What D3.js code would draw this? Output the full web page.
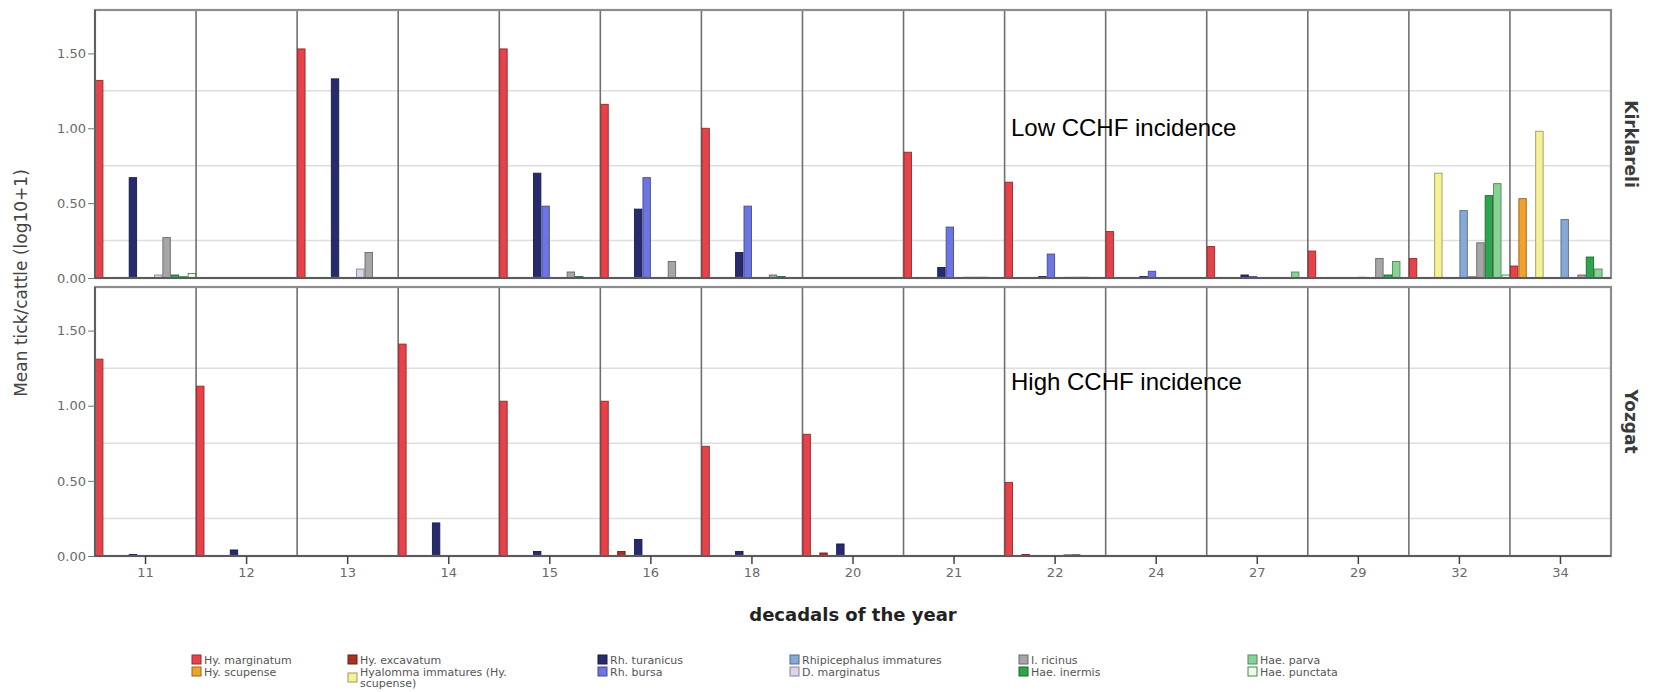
<!DOCTYPE html>
<html>
<head>
<meta charset="utf-8">
<script src="https://cdnjs.cloudflare.com/ajax/libs/d3/7.8.5/d3.min.js"></script>
<style>
  body { margin: 0; background: #fff; }
  svg { display: block; font-family: "DejaVu Sans", sans-serif; }
</style>
</head>
<body>
<div id="chart"></div>
<script>
const decadals = ["11", "12", "13", "14", "15", "16", "18", "20", "21", "22", "24", "27", "29", "32", "34"];
const species = ["Hy. marginatum", "Hy. scupense", "Hy. excavatum", "Hyalomma immatures (Hy. scupense)",
    "Rh. turanicus", "Rh. bursa", "Rhipicephalus immatures", "D. marginatus",
    "I. ricinus", "Hae. inermis", "Hae. parva", "Hae. punctata"];
const speciesColors = ["#e6424a", "#f0a22e", "#a8321f", "#f6f197", "#262b6e", "#6d75e2",
    "#85aad6", "#ddd3ea", "#a6a6a6", "#2ea44f", "#86d494", "#effaec"];
const yTicks = [0, 0.5, 1.0, 1.5];
const yGrid = [0.25, 0.75, 1.25];

// one row per decadal, one column per species (same order as `species`)
const kirklareli = [
    [1.32, 0, 0, 0, 0.67, 0, 0, 0.02, 0.27, 0.02, 0.01, 0.03],
    [0, 0, 0, 0, 0, 0, 0, 0, 0, 0, 0, 0],
    [1.53, 0, 0, 0, 1.33, 0, 0, 0.06, 0.17, 0, 0, 0],
    [0, 0, 0, 0, 0, 0, 0, 0, 0, 0, 0, 0],
    [1.53, 0, 0, 0, 0.70, 0.48, 0, 0, 0.04, 0.01, 0, 0],
    [1.16, 0, 0, 0, 0.46, 0.67, 0, 0, 0.11, 0, 0, 0],
    [1.00, 0, 0, 0, 0.17, 0.48, 0, 0, 0.02, 0.01, 0, 0],
    [0, 0, 0, 0, 0, 0, 0, 0, 0, 0, 0, 0],
    [0.84, 0, 0, 0, 0.07, 0.34, 0, 0.005, 0.005, 0.005, 0, 0],
    [0.64, 0, 0, 0, 0.01, 0.16, 0, 0.005, 0.005, 0.005, 0, 0],
    [0.31, 0, 0, 0, 0.01, 0.045, 0, 0, 0, 0, 0, 0],
    [0.21, 0, 0, 0, 0.02, 0.01, 0, 0, 0, 0, 0.04, 0],
    [0.18, 0, 0, 0, 0, 0, 0.005, 0, 0.13, 0.02, 0.11, 0],
    [0.13, 0, 0, 0.70, 0, 0, 0.45, 0.01, 0.235, 0.55, 0.63, 0.02],
    [0.08, 0.53, 0, 0.98, 0, 0, 0.39, 0, 0.02, 0.14, 0.06, 0]
];
const yozgat = [
    [1.31, 0, 0, 0, 0.01, 0, 0, 0, 0, 0, 0, 0],
    [1.13, 0, 0, 0, 0.04, 0, 0, 0, 0, 0, 0, 0],
    [0, 0, 0, 0, 0, 0, 0, 0, 0, 0, 0, 0],
    [1.41, 0, 0, 0, 0.22, 0, 0, 0, 0, 0, 0, 0],
    [1.03, 0, 0, 0, 0.03, 0, 0, 0, 0, 0, 0, 0],
    [1.03, 0, 0.03, 0, 0.11, 0, 0, 0, 0, 0, 0, 0],
    [0.73, 0, 0, 0, 0.03, 0, 0, 0, 0, 0, 0, 0],
    [0.81, 0, 0.02, 0, 0.08, 0, 0, 0, 0, 0, 0, 0],
    [0, 0, 0, 0, 0, 0, 0, 0, 0, 0, 0, 0],
    [0.49, 0, 0.01, 0, 0, 0, 0, 0.01, 0.01, 0, 0, 0],
    [0, 0, 0, 0, 0, 0, 0, 0, 0, 0, 0, 0],
    [0, 0, 0, 0, 0, 0, 0, 0, 0, 0, 0, 0],
    [0, 0, 0, 0, 0, 0, 0, 0, 0, 0, 0, 0],
    [0, 0, 0, 0, 0, 0, 0, 0, 0, 0, 0, 0],
    [0, 0, 0, 0, 0, 0, 0, 0, 0, 0, 0, 0]
];

const panels = [
    { name: "Kirklareli", data: kirklareli, top: 10, bottom: 278, note: "Low CCHF incidence", noteY: 136 },
    { name: "Yozgat", data: yozgat, top: 287, bottom: 556, note: "High CCHF incidence", noteY: 390 }
];

const width = 1656, height = 692;
const left = 95, right = 1611;
const yMax = 1.79;

const svg = d3.select("#chart").append("svg")
    .attr("width", width)
    .attr("height", height);

const x = d3.scaleBand().domain(decadals).range([left, right]).padding(0);
const xs = d3.scaleBand().domain(species).range([0, x.bandwidth()]).padding(0);
const color = d3.scaleOrdinal().domain(species).range(speciesColors);
const stroke = s => s === "Hae. punctata" ? "#3d8a4c" : d3.color(color(s)).darker(1.3);

panels.forEach((p, pi) => {
    const y = d3.scaleLinear().domain([0, yMax]).range([p.bottom, p.top]);
    const g = svg.append("g");

    // light grid lines
    g.selectAll(".grid")
        .data(yGrid)
        .enter().append("line")
        .attr("x1", left).attr("x2", right)
        .attr("y1", d => y(d)).attr("y2", d => y(d))
        .attr("stroke", "#dedede")
        .attr("stroke-width", 1.5);

    // decadal separators
    g.selectAll(".sep")
        .data(decadals.slice(1))
        .enter().append("line")
        .attr("x1", d => x(d)).attr("x2", d => x(d))
        .attr("y1", p.top).attr("y2", p.bottom)
        .attr("stroke", "#707070")
        .attr("stroke-width", 1.6);

    // bars
    const cluster = g.selectAll(".cluster")
        .data(p.data)
        .enter().append("g")
        .attr("transform", (d, i) => `translate(${x(decadals[i])},0)`);

    cluster.selectAll("rect")
        .data(row => row.map((v, j) => ({ key: species[j], value: v })).filter(d => d.value > 0))
        .enter().append("rect")
        .attr("x", d => xs(d.key) + 0.5)
        .attr("width", xs.bandwidth() - 1)
        .attr("y", d => y(d.value))
        .attr("height", d => y(0) - y(d.value))
        .attr("fill", d => color(d.key))
        .attr("stroke", d => stroke(d.key))
        .attr("stroke-width", 0.9);

    // frame
    g.append("rect")
        .attr("x", left).attr("y", p.top)
        .attr("width", right - left).attr("height", p.bottom - p.top)
        .attr("fill", "none")
        .attr("stroke", "#8c8c8c")
        .attr("stroke-width", 2.2);

    g.append("line")
        .attr("x1", left).attr("x2", right)
        .attr("y1", p.bottom).attr("y2", p.bottom)
        .attr("stroke", "#4a4a4a")
        .attr("stroke-width", 1.5);
    g.append("line")
        .attr("x1", left).attr("x2", left)
        .attr("y1", p.top).attr("y2", p.bottom)
        .attr("stroke", "#4a4a4a")
        .attr("stroke-width", 1.3);

    // y axis
    const yAxis = g.append("g").attr("transform", `translate(${left},0)`)
        .call(d3.axisLeft(y).tickValues(yTicks).tickFormat(d3.format(".2f")).tickSize(7).tickPadding(2));
    yAxis.select(".domain").remove();
    yAxis.selectAll(".tick line").attr("stroke", "#777");
    yAxis.selectAll(".tick text")
        .attr("fill", "#6a6a6a")
        .attr("font-size", 13)
        .attr("font-family", "DejaVu Sans");

    // facet label on the right
    g.append("text")
        .attr("transform", `translate(${right + 14}, ${(p.top + p.bottom) / 2}) rotate(90)`)
        .attr("text-anchor", "middle")
        .attr("font-size", 17)
        .attr("font-weight", "bold")
        .attr("fill", "#3a3a3a")
        .text(p.name);

    // annotation
    g.append("text")
        .attr("x", 1011)
        .attr("y", p.noteY)
        .attr("font-family", "Liberation Sans, Arial, sans-serif")
        .attr("font-size", 24)
        .attr("fill", "#000")
        .text(p.note);

    if (pi === panels.length - 1) {
        const xAxis = g.append("g").attr("transform", `translate(0,${p.bottom})`)
            .call(d3.axisBottom(x).tickSize(8).tickPadding(4));
        xAxis.select(".domain").remove();
        xAxis.selectAll(".tick line").attr("stroke", "#444").attr("stroke-width", 1.5);
        xAxis.selectAll(".tick text")
            .attr("fill", "#6a6a6a")
            .attr("font-size", 13)
            .attr("font-family", "DejaVu Sans");
    }
});

// axis titles
svg.append("text")
    .attr("transform", `translate(27, 283) rotate(-90)`)
    .attr("text-anchor", "middle")
    .attr("font-size", 17)
    .attr("fill", "#444")
    .text("Mean tick/cattle (log10+1)");

svg.append("text")
    .attr("x", (left + right) / 2)
    .attr("y", 621)
    .attr("text-anchor", "middle")
    .attr("font-size", 18)
    .attr("font-weight", "bold")
    .attr("fill", "#222")
    .text("decadals of the year");

// legend: 6 columns of 2 entries
const legendCols = [192, 348, 598, 790, 1019, 1248];
const legendTop = 655, legendRow = 12;

function wrap(label, max) {
    const lines = [];
    let cur = "";
    label.split(" ").forEach(w => {
        if (cur && (cur + " " + w).length > max) { lines.push(cur); cur = w; }
        else cur = cur ? cur + " " + w : w;
    });
    lines.push(cur);
    return lines;
}

const legendG = svg.selectAll(".legend")
    .data(species)
    .enter().append("g")
    .attr("class", "legend")
    .attr("transform", (d, i) => `translate(${legendCols[Math.floor(i / 2)]}, ${legendTop + (i % 2) * legendRow})`);

legendG.append("rect")
    .attr("x", 0)
    .attr("y", d => wrap(d, 23).length > 1 ? legendRow / 2 : 0)
    .attr("width", 9)
    .attr("height", 9)
    .attr("fill", d => color(d))
    .attr("stroke", d => stroke(d))
    .attr("stroke-width", 1);

legendG.append("text")
    .attr("x", 12)
    .attr("y", 8.5)
    .attr("font-size", 11)
    .attr("fill", "#555")
    .selectAll("tspan")
    .data(d => wrap(d, 23))
    .enter().append("tspan")
    .attr("x", 12)
    .attr("dy", (d, i) => i === 0 ? 0 : 11)
    .text(d => d);
</script>
</body>
</html>
